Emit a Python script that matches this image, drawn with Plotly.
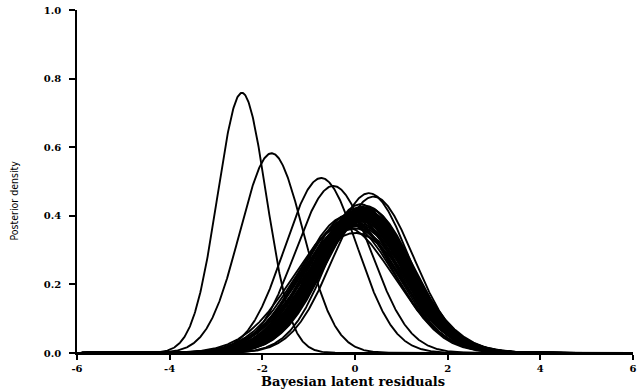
import numpy as np
import plotly.graph_objects as go

# Posterior density curves of the Bayesian latent residuals, one per observation,
# each summarised by its posterior mean and standard deviation.
outlier_means = [-2.44, -1.80, -0.73, -0.47]
outlier_sds = [0.526, 0.685, 0.782, 0.819]

upper_means = [0.30, 0.40]
upper_sds = [0.856, 0.875]

bundle_means = [-0.25, -0.20, -0.15, -0.12, -0.10, -0.05, 0.00, 0.02, 0.05, 0.07,
                0.08, 0.10, 0.11, 0.12, 0.13, 0.14, 0.15, 0.16, 0.17, 0.18,
                0.19, 0.20, 0.21, 0.22, 0.23, 0.24, 0.25, 0.26, 0.27, 0.28,
                0.30, 0.05, 0.10, 0.15, 0.20, 0.00, 0.12, 0.18, 0.25, 0.08,
                -0.18, -0.08, 0.03, 0.09, 0.14, -0.02, 0.06, 0.11]
bundle_sds = [1.08, 1.05, 1.02, 1.06, 1.05, 1.02, 1.14, 0.98, 1.00, 0.96,
              1.03, 0.99, 0.95, 1.01, 0.97, 1.04, 0.94, 1.00, 0.96, 0.98,
              1.02, 0.95, 0.97, 0.99, 0.93, 1.01, 0.96, 0.98, 0.94, 0.97,
              0.95, 1.08, 1.06, 1.03, 1.00, 1.10, 0.92, 0.99, 1.02, 1.07,
              1.00, 0.98, 0.96, 0.94, 0.96, 1.01, 0.99, 0.97]

x_ticks = [-6, -4, -2, 0, 2, 4, 6]
y_ticks = [0.0, 0.2, 0.4, 0.6, 0.8, 1.0]
y_tick_text = ["0.0", "0.2", "0.4", "0.6", "0.8", "1.0"]

grid = np.linspace(-6, 6, 1201)


def density(mean, sd):
    return np.exp(-0.5 * ((grid - mean) / sd) ** 2) / (sd * np.sqrt(2 * np.pi))


fig = go.Figure()
all_means = bundle_means + upper_means + outlier_means
all_sds = bundle_sds + upper_sds + outlier_sds
for m, s in zip(all_means, all_sds):
    fig.add_trace(go.Scatter(
        x=grid, y=density(m, s), mode="lines",
        line=dict(color="black", width=1.9),
        showlegend=False, hoverinfo="skip",
    ))

tick_font = dict(family="DejaVu Serif", size=10, color="black", weight="bold")

fig.update_layout(
    width=639, height=391,
    margin=dict(l=77, r=2, t=10, b=38),
    paper_bgcolor="white", plot_bgcolor="white",
    xaxis=dict(
        range=[-6, 6], tickvals=x_ticks, ticktext=[str(v) for v in x_ticks],
        showgrid=False, zeroline=False, showline=True, linecolor="black",
        linewidth=1.8, ticks="outside", ticklen=5, tickwidth=1.5,
        tickcolor="black", tickfont=tick_font, ticklabeloverflow="allow",
    ),
    yaxis=dict(
        range=[0, 1.0], tickvals=y_ticks, ticktext=y_tick_text,
        showgrid=False, zeroline=False, showline=True, linecolor="black",
        linewidth=1.8, ticks="outside", ticklen=6, tickwidth=1.5,
        tickcolor="black", tickfont=tick_font, ticklabelstandoff=6,
    ),
    annotations=[
        dict(text="Bayesian latent residuals", xref="paper", yref="paper",
             x=0.496, y=-0.112, xanchor="center", yanchor="bottom", showarrow=False,
             font=dict(family="DejaVu Serif", size=13, color="black", weight="bold")),
        dict(text="Posterior density", xref="paper", yref="paper",
             x=-0.113, y=0.445, xanchor="center", yanchor="middle", showarrow=False,
             textangle=-90,
             font=dict(family="DejaVu Sans Condensed, Liberation Sans", size=10.5,
                       color="black")),
    ],
)

fig.write_html("out.html")
